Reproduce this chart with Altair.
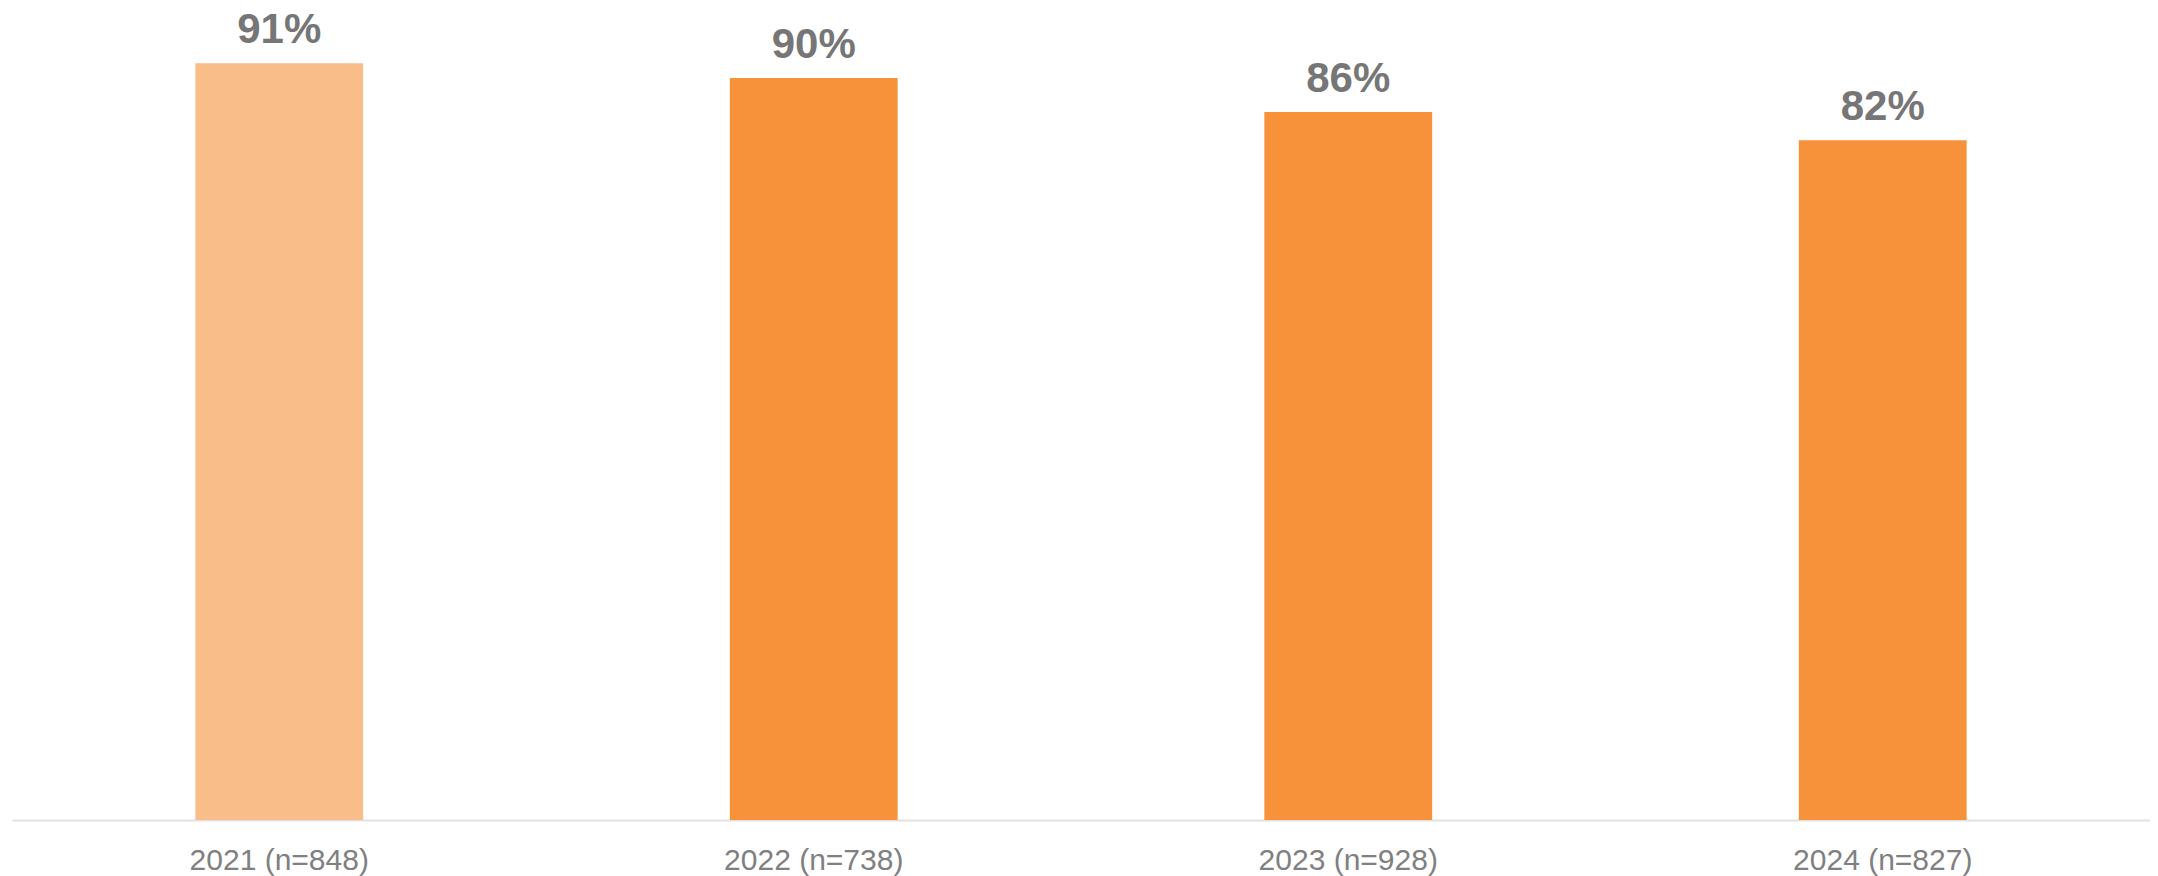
import altair as alt
import pandas as pd

categories = ["2021 (n=848)", "2022 (n=738)", "2023 (n=928)", "2024 (n=827)"]
values = [0.914, 0.896, 0.855, 0.821]
labels = ["91%", "90%", "86%", "82%"]
bar_colors = ["#F9BD8A", "#F7923A", "#F7923A", "#F7923A"]

df = pd.DataFrame({"cat": categories, "val": values, "lab": labels})

x = alt.X("cat:N", sort=categories, title=None,
          scale=alt.Scale(paddingInner=0.686, paddingOuter=0.343),
          axis=alt.Axis(labelAngle=0, labelFont="Liberation Sans", labelFontSize=30,
                        labelColor="#808080", labelPadding=25, ticks=False,
                        domainColor="#E2E2E2", domainWidth=2))
y = alt.Y("val:Q", title=None, scale=alt.Scale(domain=[0, 0.9686], nice=False), axis=None)

bars = alt.Chart(df).mark_bar().encode(
    x=x, y=y,
    color=alt.Color("cat:N", scale=alt.Scale(domain=categories, range=bar_colors), legend=None),
)
text = alt.Chart(df).mark_text(
    dy=-20, baseline="alphabetic", font="Liberation Sans", fontWeight="bold",
    fontSize=42, color="#767676"
).encode(x=x, y=y, text="lab:N")

chart = (bars + text).properties(
    width=2138, height=802,
    autosize=alt.AutoSizeParams(type="none"),
    padding={"left": 4, "top": 10, "right": 0, "bottom": 56},
).configure_view(stroke=None)
chart.save("out.html", embed_options={"renderer": "svg", "actions": False})
